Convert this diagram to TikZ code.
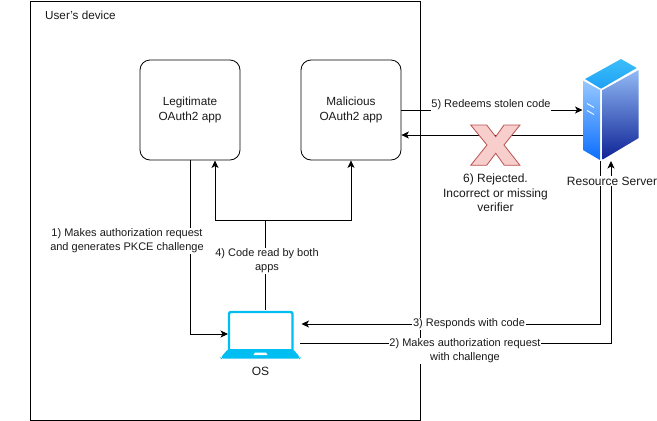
\documentclass[tikz,border=0pt]{standalone}
\usepackage{fontspec}
\setmainfont{Liberation Sans}
\usetikzlibrary{arrows.meta,calc}
\definecolor{oscol}{HTML}{00BEF2}
\definecolor{txt}{HTML}{1A1A1A}
\tikzset{
  appbox/.style={draw=black,rounded corners=10pt,minimum width=100pt,minimum height=100pt,inner sep=0pt,align=center,font=\fontsize{11.8}{14.5}\selectfont,text=txt,line width=0.8pt},
  lbl/.style={fill=white,inner sep=0.6pt,align=center,font=\fontsize{11}{14}\selectfont,text=txt},
  conn/.style={draw=black,line width=0.8pt,-{Stealth[length=7.5pt,width=7pt,inset=2pt]}},
  ghost/.style={inner sep=0pt,outer sep=0pt},
}
\begin{document}
\begin{tikzpicture}[x=1pt,y=-1pt]
\useasboundingbox (0,0) rectangle (657,421);
\fill[white] (0,0) rectangle (657,421);
% device
\node[ghost,draw=black,line width=0.8pt,minimum width=390pt,minimum height=419pt] (device) at (225,210.5) {};
\node[anchor=west,inner sep=0pt,font=\fontsize{11.7}{14}\selectfont,text=txt] (devlbl) at (45,15) {User's device};
% apps
\node[appbox] (legit) at (190,110) {Legitimate\\OAuth2 app};
\node[appbox] (mal) at (351,110) {Malicious\\OAuth2 app};
% server
\node[ghost,minimum width=56pt,minimum height=102pt] (server) at (610.5,110) {};
\shade[top color={rgb,255:red,60;green,190;blue,250},bottom color={rgb,255:red,30;green,160;blue,245}]
  (585,79) -- (621,59) -- (636.7,68) -- (601,88.7) -- cycle;
\shade[top color={rgb,255:red,150;green,200;blue,255},bottom color={rgb,255:red,10;green,110;blue,255}]
  (583,80.7) -- (600,90) -- (600,160) -- (583,150) -- cycle;
\shade[top color={rgb,255:red,145;green,185;blue,245},bottom color={rgb,255:red,14;green,35;blue,150}]
  (602.7,90) -- (638.7,70) -- (638.7,138) -- (602.7,159.5) -- cycle;
\draw[white,line width=0.9pt] (587,103.5) -- (594,107.5) (587,110.5) -- (594,114.5);
% laptop
\node[ghost,minimum width=65pt,minimum height=41pt] (screen) at (260.5,330.5) {};
\draw[oscol,line width=2.4pt,rounded corners=2pt] (229,351) -- (229,312) -- (292.5,312) -- (292.5,351);
\fill[oscol,rounded corners=2pt] (228,349) -- (293,349) -- (300.5,358) -- (300,358.5) -- (221,358.5) -- (220.5,358) -- cycle;
\fill[white] (253.5,355) -- (255,352.5) -- (266,352.5) -- (267.5,355) -- cycle;
% connectors
\coordinate (j4) at (265,220);
\draw[conn] (legit.south) -- (190,334) -- (screen.west |- 0,334);
\draw[draw=black,line width=0.8pt] (screen.north -| j4) -- (j4);
\draw[conn] (j4) -- (215,220) -- (215,160.5);
\draw[conn] (j4) -- (351,220) -- (mal.south);
\draw[conn] (mal.east |- 0,110) -- (server.west |- 0,110);
\draw[conn] (server.west |- 0,135) -- (mal.east |- 0,135);
\draw[conn] (600.5,161) -- (600.5,324) -- (301.5,324);
\draw[conn] (300,343) -- (611,343) -- (611,161);
% reject mark
\draw[draw={rgb,255:red,184;green,84;blue,80},fill={rgb,255:red,248;green,206;blue,204},line width=0.8pt]
  (470.7,125) -- (486.7,125) -- (495.7,136.7) -- (504,125) -- (520,125) -- (504,145) -- (520,165.3) -- (504.3,165.3) -- (495.7,153.3) -- (486.7,165.3) -- (470.7,165.3) -- (487,145) -- cycle;
% labels
\node[lbl] (l1) at (127,241) {1) Makes authorization request\\and generates PKCE challenge};
\node[lbl] (l4) at (267,261) {4) Code read by both\\apps};
\node[lbl] (l5) at (491,105) {5) Redeems stolen code};
\node[lbl,fill=none,font=\fontsize{12}{14.5}\selectfont] (l6) at (495.5,193) {6) Rejected.\\Incorrect or missing\\verifier};
\node[lbl] (l3) at (469,324) {3) Responds with code};
\node[lbl] (l2) at (465,351) {2) Makes authorization request\\with challenge};
\node[lbl,font=\fontsize{12}{14}\selectfont] (srv) at (612,181) {Resource Server};
\node[inner sep=0pt,font=\fontsize{12}{14}\selectfont,text=txt] (oslbl) at (260.5,371) {OS};
\end{tikzpicture}
\end{document}
